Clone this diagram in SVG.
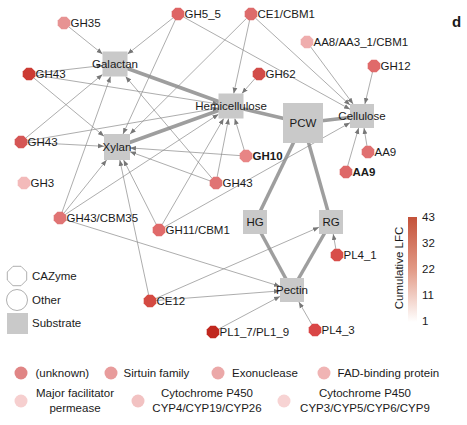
<svg xmlns="http://www.w3.org/2000/svg" xmlns:xlink="http://www.w3.org/1999/xlink" width="467" height="425" viewBox="0 0 467 425">
<defs>
<style>
text{font-family:"Liberation Sans",Arial,sans-serif;font-size:11.5px;fill:#1a1a1a}
.e{stroke:#8a8a8a;stroke-width:0.7;fill:none;marker-end:url(#ah)}
.t{stroke:#9e9e9e;stroke-width:3.5;fill:none}
.s{fill:#c9c9c9}
.m{text-anchor:middle}
.b{font-weight:bold}
</style>
<marker id="ah" viewBox="0 0 10 10" refX="10" refY="5" markerWidth="6" markerHeight="6" markerUnits="userSpaceOnUse" orient="auto">
<path d="M0,1 L10,5 L0,9 z" fill="#777"/>
</marker>
<path id="oct" d="M6.3,2.6 L2.6,6.3 L-2.6,6.3 L-6.3,2.6 L-6.3,-2.6 L-2.6,-6.3 L2.6,-6.3 L6.3,-2.6 Z"/>
<linearGradient id="cb" x1="0" y1="0" x2="0" y2="1">
<stop offset="0" stop-color="#c4523a"/>
<stop offset="0.5" stop-color="#e29a86"/>
<stop offset="1" stop-color="#ffffff"/>
</linearGradient>
</defs>
<rect width="467" height="425" fill="#fff"/>

<g id="connectors">
<line class="t" x1="115" y1="64" x2="231" y2="106"/>
<line class="t" x1="117" y1="147" x2="231" y2="106"/>
<line class="t" x1="231" y1="106" x2="303" y2="123"/>
<line class="t" x1="303" y1="123" x2="362" y2="116"/>
<line class="t" x1="303" y1="123" x2="255" y2="222"/>
<line class="t" x1="303" y1="123" x2="331" y2="222"/>
<line class="t" x1="255" y1="222" x2="292" y2="290"/>
<line class="t" x1="331" y1="222" x2="292" y2="290"/>

<line class="e" x1="68.7" y1="26.8" x2="102.5" y2="54"/>
<line class="e" x1="173.3" y1="17.7" x2="127.5" y2="54.1"/>
<line class="e" x1="175.5" y1="19.5" x2="123" y2="134"/>
<line class="e" x1="183.3" y1="16.9" x2="350" y2="109.3"/>
<line class="e" x1="249.7" y1="19.9" x2="233.7" y2="93.5"/>
<line class="e" x1="255.4" y1="18.1" x2="350" y2="105"/>
<line class="e" x1="246.7" y1="18.2" x2="130" y2="134.1"/>
<line class="e" x1="310.6" y1="46.8" x2="353.1" y2="104"/>
<line class="e" x1="372.6" y1="71.8" x2="364.9" y2="104"/>
<line class="e" x1="255" y1="78.5" x2="241.9" y2="93.5"/>
<line class="e" x1="35" y1="73.3" x2="102.5" y2="65.5"/>
<line class="e" x1="35" y1="75" x2="218.5" y2="104"/>
<line class="e" x1="33.6" y1="77.8" x2="104" y2="136.2"/>
<line class="e" x1="27" y1="142.3" x2="104" y2="146.3"/>
<line class="e" x1="25.6" y1="138.2" x2="102.5" y2="74.4"/>
<line class="e" x1="26.9" y1="141" x2="218.5" y2="108.1"/>
<line class="e" x1="62" y1="212.3" x2="110.5" y2="76.5"/>
<line class="e" x1="63.8" y1="213.3" x2="106.6" y2="160"/>
<line class="e" x1="65" y1="214.7" x2="218.5" y2="114.2"/>
<line class="e" x1="65.7" y1="219.8" x2="280" y2="286.3"/>
<line class="e" x1="156.3" y1="224.6" x2="123.6" y2="160"/>
<line class="e" x1="162" y1="224.8" x2="223.7" y2="118.5"/>
<line class="e" x1="164.2" y1="227.1" x2="350" y2="122.7"/>
<line class="e" x1="210.4" y1="181" x2="130" y2="151.7"/>
<line class="e" x1="212.1" y1="178.4" x2="125.6" y2="76.5"/>
<line class="e" x1="217.1" y1="177.1" x2="228.6" y2="118.5"/>
<line class="e" x1="244.3" y1="150.3" x2="234.75" y2="118.5"/>
<line class="e" x1="240" y1="155.6" x2="130" y2="147.9"/>
<line class="e" x1="367" y1="146.1" x2="364" y2="128"/>
<line class="e" x1="347.6" y1="166.2" x2="358.6" y2="128"/>
<line class="e" x1="335.9" y1="249.1" x2="333.2" y2="234"/>
<line class="e" x1="148.7" y1="295.1" x2="119.8" y2="160"/>
<line class="e" x1="155.5" y1="298.6" x2="319" y2="227.2"/>
<line class="e" x1="156" y1="300.5" x2="280" y2="290.9"/>
<line class="e" x1="218.3" y1="329.2" x2="280" y2="296.4"/>
<line class="e" x1="312" y1="324.8" x2="298.9" y2="302"/>
</g>

<g id="Galactan"><rect class="s" x="102.5" y="51.5" width="25" height="25"/><text class="m" x="115" y="68">Galactan</text></g>
<g id="Hemicellulose"><rect class="s" x="218.5" y="93.5" width="25" height="25"/><text class="m" x="231" y="110">Hemicellulose</text></g>
<g id="PCW"><rect class="s" x="283" y="103" width="40" height="40"/><text class="m" x="303" y="127">PCW</text></g>
<g id="Cellulose"><rect class="s" x="350" y="104" width="24" height="24"/><text class="m" x="362" y="120">Cellulose</text></g>
<g id="Xylan"><rect class="s" x="104" y="134" width="26" height="26"/><text class="m" x="117" y="151">Xylan</text></g>
<g id="HG"><rect class="s" x="243" y="210" width="24" height="24"/><text class="m" x="255" y="226">HG</text></g>
<g id="RG"><rect class="s" x="319" y="210" width="24" height="24"/><text class="m" x="331" y="226">RG</text></g>
<g id="Pectin"><rect class="s" x="280" y="278" width="24" height="24"/><text class="m" x="292" y="294">Pectin</text></g>

<g id="GH35"><use href="#oct" x="64" y="23" fill="#e79393"/><text x="70.5" y="27">GH35</text></g>
<g id="GH5_5"><use href="#oct" x="178" y="14" fill="#de6464"/><text x="184.5" y="18">GH5_5</text></g>
<g id="CE1_CBM1"><use href="#oct" x="251" y="14" fill="#dd6b6b"/><text x="257.5" y="18">CE1/CBM1</text></g>
<g id="AA8"><use href="#oct" x="307" y="42" fill="#efadad"/><text x="313.5" y="46">AA8/AA3_1/CBM1</text></g>
<g id="GH12"><use href="#oct" x="374" y="66" fill="#e06a6a"/><text x="380.5" y="70">GH12</text></g>
<g id="GH43a"><use href="#oct" x="29" y="74" fill="#cc3b33"/><text x="35.5" y="78">GH43</text></g>
<g id="GH62"><use href="#oct" x="259" y="74" fill="#d24c48"/><text x="265.5" y="78">GH62</text></g>
<g id="GH43b"><use href="#oct" x="21" y="142" fill="#d55655"/><text x="27.5" y="146">GH43</text></g>
<g id="GH10"><use href="#oct" x="246" y="156" fill="#e88585"/><text class="b" x="252.5" y="160">GH10</text></g>
<g id="GH43c"><use href="#oct" x="216" y="183" fill="#e07474"/><text x="222.5" y="187">GH43</text></g>
<g id="AA9a"><use href="#oct" x="368" y="152" fill="#e07070"/><text x="374.5" y="156">AA9</text></g>
<g id="AA9b"><use href="#oct" x="346" y="172" fill="#de6868"/><text class="b" x="352.5" y="176">AA9</text></g>
<g id="GH3"><use href="#oct" x="24" y="183" fill="#f3baba"/><text x="30.5" y="187">GH3</text></g>
<g id="GH43_CBM35"><use href="#oct" x="60" y="218" fill="#e07474"/><text x="66.5" y="222">GH43/CBM35</text></g>
<g id="GH11_CBM1"><use href="#oct" x="159" y="230" fill="#e06a6a"/><text x="165.5" y="234">GH11/CBM1</text></g>
<g id="PL4_1"><use href="#oct" x="337" y="255" fill="#d84e4a"/><text x="343.5" y="259">PL4_1</text></g>
<g id="CE12"><use href="#oct" x="150" y="301" fill="#d44a42"/><text x="156.5" y="305">CE12</text></g>
<g id="PL1_7"><use href="#oct" x="213" y="332" fill="#c0271e"/><text x="219.5" y="336">PL1_7/PL1_9</text></g>
<g id="PL4_3"><use href="#oct" x="315" y="330" fill="#d94646"/><text x="321.5" y="334">PL4_3</text></g>

<text class="b" x="452" y="27" style="font-size:15px">d</text>

<g id="legend-shapes">
<polygon points="26.7,280 21,285.7 13,285.7 7.3,280 7.3,272 13,266.3 21,266.3 26.7,272" fill="#fff" stroke="#9a9a9a" stroke-width="0.8"/>
<text x="32" y="280">CAZyme</text>
<circle cx="17" cy="300" r="10.5" fill="#fff" stroke="#9a9a9a" stroke-width="0.8"/>
<text x="32" y="304">Other</text>
<rect class="s" x="7" y="313" width="21" height="21"/>
<text x="32" y="327">Substrate</text>
</g>

<g id="colorbar">
<rect x="408" y="217" width="9" height="105" fill="url(#cb)"/>
<text x="422" y="221">43</text>
<text x="422" y="247">32</text>
<text x="422" y="273">22</text>
<text x="422" y="299">11</text>
<text x="422" y="325">1</text>
<text class="m" transform="translate(402.5,268) rotate(-90)">Cumulative LFC</text>
</g>

<g id="legend-families">
<circle cx="21" cy="373" r="6.5" fill="#e08585"/><text x="35.5" y="377">(unknown)</text>
<circle cx="111" cy="373" r="6.5" fill="#e89c9c"/><text x="123.5" y="377">Sirtuin family</text>
<circle cx="218" cy="373" r="6.5" fill="#eba8a8"/><text x="232" y="377">Exonuclease</text>
<circle cx="324" cy="373" r="6.5" fill="#f0b4b4"/><text x="337.5" y="377">FAD-binding protein</text>
<circle cx="21" cy="401" r="6.5" fill="#f6cfcf"/><text class="m" x="75" y="397">Major facilitator</text><text class="m" x="75" y="412">permease</text>
<circle cx="138" cy="401" r="6.5" fill="#f2c2c2"/><text class="m" x="207" y="397">Cytochrome P450</text><text class="m" x="207" y="412">CYP4/CYP19/CYP26</text>
<circle cx="284" cy="401" r="6.5" fill="#f7d3d3"/><text class="m" x="365" y="397">Cytochrome P450</text><text class="m" x="365" y="412">CYP3/CYP5/CYP6/CYP9</text>
</g>
</svg>
